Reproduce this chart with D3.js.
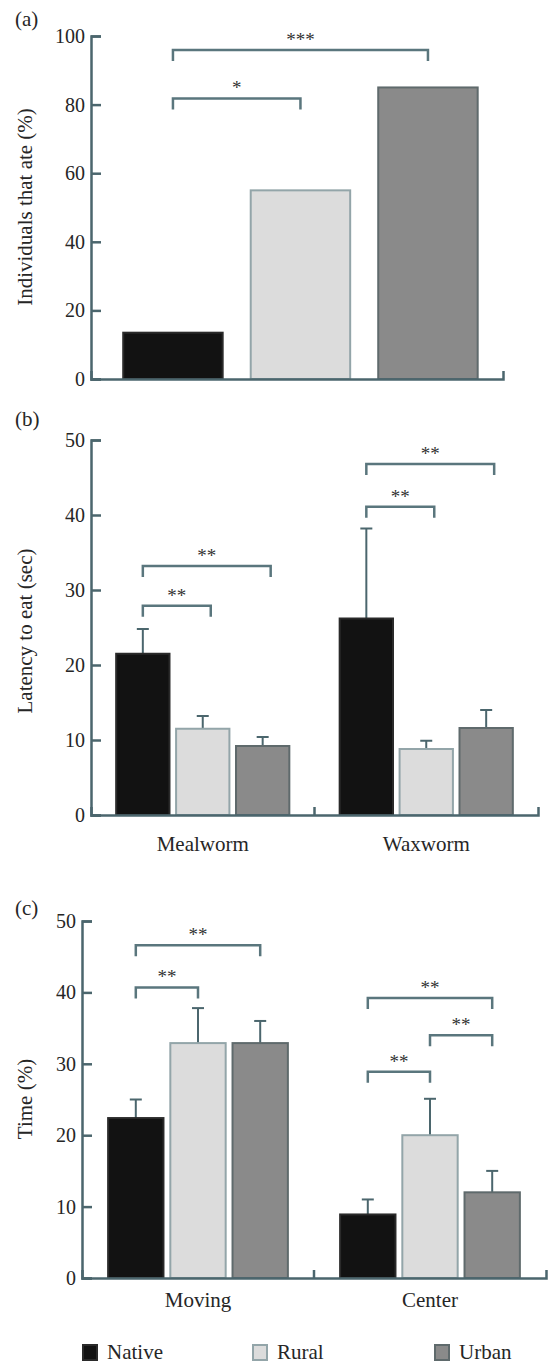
<!DOCTYPE html>
<html>
<head>
<meta charset="utf-8">
<script src="https://cdn.jsdelivr.net/npm/d3@7"></script>
<style>
  body { margin: 0; background: #fff; }
  svg text { font-family: "Liberation Serif", "Times New Roman", "DejaVu Serif", serif !important; }
</style>
</head>
<body>
<svg id="chart" width="555" height="1366"></svg>
<script>
// ---- data ----
const series = ["Native", "Rural", "Urban"];

// (a) individuals that ate (%)
const ateValues = [13.5, 55, 85];
const ateTicks = [0, 20, 40, 60, 80, 100];
const ateBrackets = [
  { from: 0, to: 1, level: 81.8, label: "*" },
  { from: 0, to: 2, level: 95.9, label: "***" }
];

// (b) latency to eat (sec), mean and standard error
const foodCategories = ["Mealworm", "Waxworm"];
const latencyMeans = [[21.5, 11.5, 9.2], [26.2, 8.8, 11.6]];
const latencyErrors = [[3.3, 1.7, 1.2], [12.0, 1.1, 2.4]];
const latencyTicks = [0, 10, 20, 30, 40, 50];
const latencyBrackets = [
  { group: 0, from: 0, to: 1, level: 27.9, label: "**" },
  { group: 0, from: 0, to: 2, level: 33.2, label: "**" },
  { group: 1, from: 0, to: 1, level: 41.1, label: "**" },
  { group: 1, from: 0, to: 2, level: 46.8, label: "**" }
];

// (c) time (%), mean and standard error
const behaviourCategories = ["Moving", "Center"];
const timeMeans = [[22.4, 32.9, 32.9], [8.9, 20.0, 12.0]];
const timeErrors = [[2.6, 4.9, 3.1], [2.1, 5.1, 3.0]];
const timeTicks = [0, 10, 20, 30, 40, 50];
const timeBrackets = [
  { group: 0, from: 0, to: 1, level: 40.7, label: "**" },
  { group: 0, from: 0, to: 2, level: 46.6, label: "**" },
  { group: 1, from: 0, to: 1, level: 28.9, label: "**" },
  { group: 1, from: 1, to: 2, level: 34.0, label: "**" },
  { group: 1, from: 0, to: 2, level: 39.2, label: "**" }
];

// ---- styles ----
const fills = ["#121212", "#dcdcdc", "#8a8a8a"];
const strokes = ["#2a2a2a", "#93a5a9", "#5f6a6c"];
const axisColor = "#4b666d";
const bracketColor = "#5a767d";
const textColor = "#262626";
const serif = "Liberation Serif";

const svg = d3.select("#chart");

function txt(sel) {
  return sel.attr("font-family", serif).attr("fill", textColor);
}

function drawYAxis(y, ticks, x0) {
  const g = svg.append("g")
    .attr("transform", `translate(${x0},0)`)
    .call(d3.axisLeft(y).tickValues(ticks)
      .tickSizeInner(-10).tickSizeOuter(-10).tickPadding(6));
  g.attr("font-family", serif);
  g.selectAll("path, line").attr("stroke", axisColor).attr("stroke-width", 2.5);
  txt(g.selectAll("text")).attr("font-size", 20);
}

function drawXAxis(x, y0) {
  const g = svg.append("g")
    .attr("transform", `translate(0,${y0})`)
    .call(d3.axisBottom(x).tickValues([]).tickSizeOuter(-8));
  g.select("path").attr("stroke", axisColor).attr("stroke-width", 2.5).attr("fill", "none");
  return g;
}

function drawBracket(x1, x2, yLine, label) {
  svg.append("path")
    .attr("d", `M${x1},${yLine + 11}V${yLine}H${x2}V${yLine + 11}`)
    .attr("fill", "none")
    .attr("stroke", bracketColor)
    .attr("stroke-width", 2.5);
  txt(svg.append("text"))
    .attr("x", (x1 + x2) / 2)
    .attr("y", yLine - 4)
    .attr("text-anchor", "middle")
    .attr("font-size", 19)
    .attr("fill", "#333")
    .text(label);
}

function panelLabel(t, y) {
  txt(svg.append("text")).attr("x", 15).attr("y", y)
    .attr("font-size", 21).text(t);
}

function yTitle(t, cy) {
  txt(svg.append("text"))
    .attr("transform", `translate(32,${cy}) rotate(-90)`)
    .attr("text-anchor", "middle")
    .attr("font-size", 21)
    .text(t);
}

// ---- panel (a) ----
{
  const x = d3.scaleBand().domain(series).range([91, 503])
    .paddingInner(0.22).paddingOuter(0.2256).align(0.56);
  const y = d3.scaleLinear().domain([0, 100]).range([379, 36]);

  svg.selectAll("rect.a").data(ateValues).enter().append("rect")
    .attr("class", "a")
    .attr("x", (d, i) => x(series[i]))
    .attr("y", d => y(d))
    .attr("width", x.bandwidth())
    .attr("height", d => y(0) - y(d))
    .attr("fill", (d, i) => fills[i])
    .attr("stroke", (d, i) => strokes[i])
    .attr("stroke-width", 2);

  drawXAxis(x, y(0));
  drawYAxis(y, ateTicks, 91);

  ateBrackets.forEach(b => {
    const cx = s => x(series[s]) + x.bandwidth() / 2;
    drawBracket(cx(b.from), cx(b.to), y(b.level), b.label);
  });

  panelLabel("(a)", 26);
  yTitle("Individuals that ate (%)", 207);
}

// ---- grouped panels (b) and (c) ----
function groupedPanel(cfg) {
  const x0 = d3.scaleBand().domain(cfg.cats).range(cfg.xRange).padding(0);
  const x1 = d3.scaleBand().domain(series).range([0, x0.bandwidth()])
    .paddingInner(0.11).paddingOuter(0.42);
  const y = d3.scaleLinear().domain([0, 50]).range(cfg.yRange);

  const rows = [];
  cfg.cats.forEach((c, gi) => series.forEach((s, si) => {
    rows.push({ cat: c, s, si, v: cfg.means[gi][si], e: cfg.errs[gi][si] });
  }));

  const cx = (c, s) => x0(c) + x1(s) + x1.bandwidth() / 2;

  // error bars first so the bar top covers the stem base
  const eb = svg.append("g").attr("stroke", axisColor).attr("stroke-width", 2);
  rows.forEach(r => {
    const xc = cx(r.cat, r.s);
    eb.append("line").attr("x1", xc).attr("x2", xc)
      .attr("y1", y(r.v)).attr("y2", y(r.v + r.e));
    eb.append("line").attr("x1", xc - 6).attr("x2", xc + 6)
      .attr("y1", y(r.v + r.e)).attr("y2", y(r.v + r.e));
  });

  svg.append("g").selectAll("rect").data(rows).enter().append("rect")
    .attr("x", d => x0(d.cat) + x1(d.s))
    .attr("y", d => y(d.v))
    .attr("width", x1.bandwidth())
    .attr("height", d => y(0) - y(d.v))
    .attr("fill", d => fills[d.si])
    .attr("stroke", d => strokes[d.si])
    .attr("stroke-width", 2);

  drawXAxis(x0, y(0));
  // separator tick between the groups
  svg.append("line")
    .attr("x1", x0(cfg.cats[1])).attr("x2", x0(cfg.cats[1]))
    .attr("y1", y(0)).attr("y2", y(0) - 8)
    .attr("stroke", axisColor).attr("stroke-width", 2.5);
  drawYAxis(y, cfg.ticks, cfg.xRange[0]);

  cfg.cats.forEach(c => {
    txt(svg.append("text"))
      .attr("x", x0(c) + x0.bandwidth() / 2)
      .attr("y", cfg.catY)
      .attr("text-anchor", "middle")
      .attr("font-size", 21)
      .text(c);
  });

  cfg.brackets.forEach(b => {
    const c = cfg.cats[b.group];
    drawBracket(cx(c, series[b.from]), cx(c, series[b.to]) + cfg.endShift,
      y(b.level), b.label);
  });

  panelLabel(cfg.label, cfg.labelY);
  yTitle(cfg.title, cfg.titleY);
}

groupedPanel({
  cats: foodCategories, means: latencyMeans, errs: latencyErrors,
  brackets: latencyBrackets, ticks: latencyTicks,
  xRange: [91, 538], yRange: [815, 440],
  catY: 851, label: "(b)", labelY: 426,
  title: "Latency to eat (sec)", titleY: 631, endShift: 8
});

groupedPanel({
  cats: behaviourCategories, means: timeMeans, errs: timeErrors,
  brackets: timeBrackets, ticks: timeTicks,
  xRange: [82, 546], yRange: [1278, 921],
  catY: 1307, label: "(c)", labelY: 915,
  title: "Time (%)", titleY: 1099, endShift: 0
});

// ---- legend ----
const legendX = [83, 253, 435];
const lg = svg.append("g");
series.forEach((s, i) => {
  lg.append("rect")
    .attr("x", legendX[i]).attr("y", 1345)
    .attr("width", 14).attr("height", 15)
    .attr("fill", fills[i]).attr("stroke", strokes[i]).attr("stroke-width", 2);
  txt(lg.append("text"))
    .attr("x", legendX[i] + 24).attr("y", 1359)
    .attr("font-size", 21)
    .text(s);
});
</script>
</body>
</html>
